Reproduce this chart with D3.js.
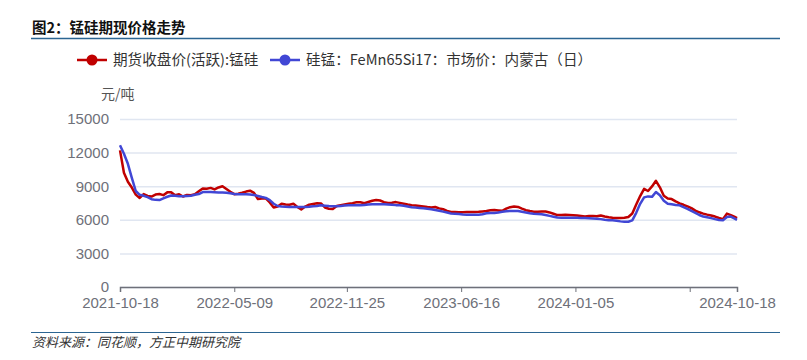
<!DOCTYPE html>
<meta charset="utf-8">
<style>
body { margin: 0; background: #fff; font-family: "Noto Sans CJK SC", "Noto Sans", sans-serif; }
.grid line { stroke: #e0e6f1; stroke-width: 1.5px; }
.tick text { fill: #6e7079; }
.line { fill: none; stroke-width: 2.5px; stroke-linejoin: round; }
</style>
<body>
<script src="https://d3js.org/d3.v7.min.js"></script>
<script>

// weekly samples from 2021-10-18 (one value per week), last point is 2024-10-18
var startDate = "2021-10-18";
var endDate = "2024-10-18";

// 期货收盘价(活跃):锰硅
var futures = [12200,10200,9400,8880,8250,7950,8300,8130,8080,8250,8300,8200,8450,8450,8200,8280,8080,8220,8200,8290,
  8550,8800,8780,8850,8710,8890,9000,8750,8500,8290,8320,8410,8520,8600,8400,7860,7900,7920,7550,7100,
  7180,7440,7360,7350,7440,7140,6930,7180,7350,7420,7470,7460,7100,6990,6960,7230,7300,7370,7430,7490,
  7560,7560,7480,7590,7700,7770,7720,7580,7510,7520,7580,7510,7440,7370,7310,7270,7230,7190,7140,7100,
  7140,7020,6940,6800,6700,6690,6680,6680,6690,6700,6700,6720,6750,6780,6850,6880,6840,6800,7000,7130,
  7190,7150,7000,6860,6780,6720,6720,6730,6740,6660,6540,6420,6420,6450,6430,6410,6380,6340,6300,6330,
  6350,6310,6390,6300,6220,6190,6170,6160,6180,6250,6560,7370,8120,8760,8570,8980,9480,8900,8150,7900,
  7850,7640,7470,7340,7200,7040,6820,6670,6550,6460,6380,6290,6160,6050,6550,6420,6260,6150];

// 硅锰：FeMn65Si17：市场价：内蒙古（日）
var spot = [12650,11900,11000,9750,8570,8230,8140,8020,7840,7780,7760,7920,8060,8170,8140,8100,8100,8120,8140,8230,
  8300,8480,8480,8480,8460,8440,8430,8410,8370,8310,8290,8290,8280,8250,8210,8130,8040,7960,7760,7430,
  7230,7190,7160,7150,7140,7140,7140,7140,7160,7200,7240,7290,7260,7230,7210,7210,7240,7270,7290,7290,
  7290,7300,7330,7360,7380,7380,7380,7380,7370,7340,7310,7290,7250,7190,7130,7090,7060,7030,6990,6940,
  6870,6800,6730,6650,6570,6540,6510,6480,6460,6460,6460,6460,6500,6580,6610,6610,6660,6720,6770,6790,
  6790,6790,6720,6650,6590,6550,6520,6490,6420,6350,6280,6200,6190,6190,6190,6190,6180,6170,6160,6140,
  6120,6100,6060,6000,5960,5950,5910,5860,5820,5830,5950,6620,7430,8000,8090,8050,8480,8200,7700,7440,
  7380,7320,7290,7140,6980,6790,6620,6430,6290,6220,6150,6060,5980,5950,6250,6290,6110,6000];

var tickDates = ["2021-10-18", "2022-05-09", "2022-11-25", "2023-06-16", "2024-01-05", "2024-07-26", "2024-10-18"];
var tickLabels = ["2021-10-18", "2022-05-09", "2022-11-25", "2023-06-16", "2024-01-05", "", "2024-10-18"];
var yTicks = [0, 3000, 6000, 9000, 12000, 15000];

var seriesNames = ["期货收盘价(活跃):锰硅", "硅锰：FeMn65Si17：市场价：内蒙古（日）"];
var colors = ["#c00000", "#4147d5"];

var parseDate = d3.timeParse("%Y-%m-%d");

// build dates for the weekly samples
var dates = futures.map(function(d, i) {
  return i == futures.length - 1 ? parseDate(endDate) : d3.timeDay.offset(parseDate(startDate), 7 * i);
});

var width = 807, height = 360;
var margin = {top: 119, right: 70, bottom: 73, left: 120};
var plotW = width - margin.left - margin.right,
    plotH = height - margin.top - margin.bottom;

var svg = d3.select("body").append("svg")
    .attr("width", width)
    .attr("height", height);

// title
svg.append("text")
    .attr("x", 32).attr("y", 33)
    .style("font-size", "14.5px").style("font-weight", "bold").style("fill", "#111")
    .text("图2：锰硅期现价格走势");
svg.append("line")
    .attr("x1", 31).attr("x2", 780).attr("y1", 38.5).attr("y2", 38.5)
    .attr("stroke", "#2b6592").attr("stroke-width", 1.5);

// legend
var legendX = [77, 270];
seriesNames.forEach(function(name, i) {
  var g = svg.append("g").attr("transform", "translate(" + legendX[i] + ",60)");
  g.append("line").attr("x1", 0).attr("x2", 30).attr("y1", 0).attr("y2", 0)
      .attr("stroke", colors[i]).attr("stroke-width", 2.5);
  g.append("circle").attr("cx", 15).attr("cy", 0).attr("r", 5.5).attr("fill", colors[i]);
  g.append("text").attr("x", 36).attr("y", 0).attr("dy", "0.35em")
      .style("font-size", "14.6px").style("fill", "#333").text(name);
});

var chart = svg.append("g")
    .attr("transform", "translate(" + margin.left + "," + margin.top + ")");

var x = d3.scaleTime()
    .domain([parseDate(startDate), parseDate(endDate)])
    .range([0, plotW]);
var y = d3.scaleLinear().domain([0, 15000]).range([plotH, 0]);

// grid + y labels
var yAxis = chart.append("g")
    .attr("class", "grid")
    .call(d3.axisLeft(y).tickValues(yTicks).tickSize(-plotW).tickPadding(11).tickFormat(d3.format("d")));
yAxis.select(".domain").remove();
yAxis.selectAll(".tick text").style("font-size", "15px");

// unit label
chart.append("text")
    .attr("x", -19).attr("y", -20)
    .style("font-size", "14px").style("fill", "#555")
    .text("元/吨");

// lines
var line = d3.line()
    .x(function(d) { return x(d.date); })
    .y(function(d) { return y(d.value); });

[futures, spot].forEach(function(values, i) {
  var data = values.map(function(v, j) { return {date: dates[j], value: v}; });
  chart.append("path")
      .datum(data)
      .attr("class", "line")
      .attr("stroke", colors[i])
      .attr("d", line);
});

// x axis
var xAxis = chart.append("g")
    .attr("transform", "translate(0," + plotH + ")")
    .call(d3.axisBottom(x)
      .tickValues(tickDates.map(parseDate))
      .tickSize(5)
      .tickPadding(5)
      .tickFormat(function(d, i) { return tickLabels[i]; }));
xAxis.select(".domain").attr("stroke", "#6e7079").attr("stroke-width", 1.5);
xAxis.selectAll(".tick line").attr("stroke", "#6e7079");
xAxis.selectAll(".tick text").style("font-size", "15px");

// source
svg.append("line")
    .attr("x1", 31).attr("x2", 780).attr("y1", 332.5).attr("y2", 332.5)
    .attr("stroke", "#2b6592").attr("stroke-width", 1);
svg.append("text")
    .attr("x", 32).attr("y", 347)
    .style("font-size", "13px").style("font-style", "italic").style("fill", "#333")
    .text("资料来源：同花顺，方正中期研究院");

</script>
</body>
